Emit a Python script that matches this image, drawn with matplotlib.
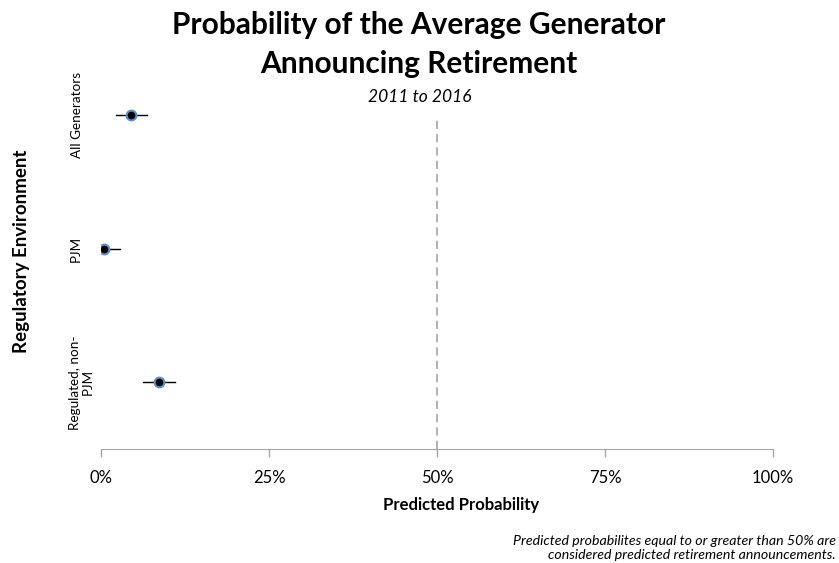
import matplotlib
matplotlib.use('Agg')
import matplotlib.pyplot as plt

plt.rcParams['font.family'] = ['Lato', 'DejaVu Sans']

# Predicted probabilities (%) with lower/upper bounds
groups = ['All Generators', 'PJM', 'Regulated, non-\nPJM']
prob = [4.4, 0.5, 8.6]
lower = [2.2, 0.0, 6.3]
upper = [6.9, 2.9, 11.0]
xticks = [0, 25, 50, 75, 100]
threshold = 50

W, H = 839, 563
fig = plt.figure(figsize=(W / 100, H / 100), dpi=100)
ax = fig.add_axes([101 / W, 1 - 449 / H, 672 / W, (449 - 48.5) / H])

ypos = list(range(len(groups)))[::-1]
grey = '#a6a6a6'

# threshold line at 50%
ax.plot([threshold, threshold], [-0.5, 1.99], color=grey, lw=1.2,
        ls=(0, (5, 3)), zorder=1)

for y, p, lo, hi in zip(ypos, prob, lower, upper):
    ax.plot([lo, hi], [y, y], color='black', lw=1, zorder=2)
    ax.plot(p, y, 'o', ms=7, mfc='black', mec='#5b8fc9', mew=1.5, zorder=3)

ax.set_xlim(0, 100)
ax.set_ylim(-0.5, 2.5)
ax.set_xticks(xticks)
ax.set_xticklabels([f'{t}%' for t in xticks], fontsize=12)
ax.set_yticks([])
for s in ['top', 'right', 'left']:
    ax.spines[s].set_visible(False)
ax.spines['bottom'].set_color(grey)
ax.tick_params(axis='x', colors=grey, length=6, width=1, pad=9, labelcolor='black')

# rotated category labels, in axes-fraction x so they sit left of the plot
label_x = [-0.036, -0.038, -0.029]
for y, g, lx in zip(ypos, groups, label_x):
    ax.text(lx, y, g, rotation=90, ha='center', va='center',
            fontsize=9.7, multialignment='center', linespacing=1.1,
            transform=ax.get_yaxis_transform())

fig.text(461 / W, 1 - 505 / H, 'Predicted Probability', ha='center', va='center',
         fontsize=12, fontweight='bold')
fig.text(22 / W, 1 - 251 / H, 'Regulatory Environment', ha='center', va='center',
         rotation=90, fontsize=13.5, fontweight='bold')

fig.text(419 / W, 1 - 25 / H, 'Probability of the Average Generator', ha='center',
         va='center', fontsize=21.5, fontweight='bold')
fig.text(419 / W, 1 - 64 / H, 'Announcing Retirement', ha='center',
         va='center', fontsize=21.5, fontweight='bold')
fig.text(420 / W, 1 - 97 / H, '2011 to 2016', ha='center', va='center',
         fontsize=12.5, style='italic')

fig.text(836 / W, 1 - 548 / H,
         'Predicted probabilites equal to or greater than 50% are\n'
         'considered predicted retirement announcements.',
         ha='right', va='center', fontsize=10.2, style='italic',
         multialignment='right', linespacing=1.2)

fig.savefig('out.png', dpi=100)
